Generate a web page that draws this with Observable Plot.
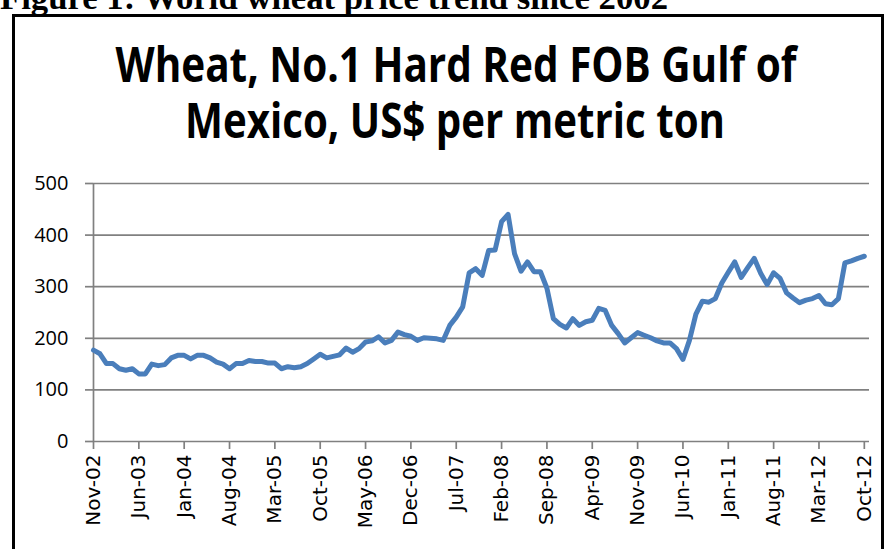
<!DOCTYPE html>
<html>
<head>
<meta charset="utf-8">
<script src="https://cdn.jsdelivr.net/npm/d3@7"></script>
<script src="https://cdn.jsdelivr.net/npm/@observablehq/plot@0.6"></script>
<style>
  html, body { margin: 0; padding: 0; background: #fff; }
  #wrap { position: relative; width: 886px; height: 549px; overflow: hidden; background: #fff; }
  #frame { position: absolute; left: 12px; top: 14px; width: 872px; height: 600px; border: 3px solid #000; box-sizing: border-box; }
  #chart { position: absolute; left: 0; top: 0; }
  #texts { position: absolute; left: 0; top: 0; }
</style>
</head>
<body>
<div id="wrap">
  <div id="frame"></div>
  <div id="chart"></div>
  <svg id="texts" width="886" height="549">
    <text x="0" y="9" font-family="Liberation Serif" font-weight="bold" font-size="33" textLength="668" lengthAdjust="spacingAndGlyphs" fill="#000">Figure 1: World wheat price trend since 2002</text>
    <text x="456" y="82" text-anchor="middle" font-family="Open Sans" font-weight="bold" font-size="48" textLength="681" lengthAdjust="spacingAndGlyphs" fill="#000">Wheat, No.1 Hard Red FOB Gulf of</text>
    <text x="455" y="138" text-anchor="middle" font-family="Open Sans" font-weight="bold" font-size="48" textLength="540" lengthAdjust="spacingAndGlyphs" fill="#000">Mexico, US$ per metric ton</text>
  </svg>
</div>
<script>
// Monthly price, US$ per metric ton, Nov-02 .. Oct-12
const prices = [
  177,170,151,151,141,138,141,131,131,150,
  147,149,162,167,167,160,167,167,162,154,
  150,141,151,151,157,155,155,152,152,141,
  145,143,145,151,160,169,162,165,168,181,
  173,180,193,195,203,191,196,212,207,204,
  196,201,200,199,196,225,241,261,327,335,
  322,370,371,426,440,364,330,348,329,329,
  297,238,227,220,238,225,232,235,258,254,
  225,209,191,201,211,206,201,195,191,191,
  180,159,196,247,272,270,277,307,328,348,
  318,337,355,326,304,327,316,288,278,269,
  274,277,283,267,265,277,346,350,355,359
];
const tickLabels = ["Nov-02","Jun-03","Jan-04","Aug-04","Mar-05","Oct-05","May-06","Dec-06","Jul-07","Feb-08","Sep-08","Apr-09","Nov-09","Jun-10","Jan-11","Aug-11","Mar-12","Oct-12"];
const tickStep = 7; // months between labelled ticks
const yTicks = [0, 100, 200, 300, 400, 500];

const data = prices.map((v, i) => ({i, v}));
const xTicks = tickLabels.map((_, k) => k * tickStep);

const chart = Plot.plot({
  width: 886,
  height: 549,
  marginLeft: 93,
  marginRight: 17,
  marginTop: 183,
  marginBottom: 108,
  style: {background: "transparent", color: "#000", fontFamily: "Open Sans", overflow: "visible"},
  x: {domain: [0, 119.8]},
  y: {domain: [0, 500]},
  marks: [
    Plot.ruleY(yTicks, {stroke: "#808080", strokeWidth: 1.7}),
    Plot.ruleX([0], {stroke: "#808080", strokeWidth: 1.7}),
    Plot.axisY({ticks: yTicks, tickSize: 8, tickPadding: 17, fontSize: 20, stroke: "#808080", strokeWidth: 1.7, strokeOpacity: 1, label: null}),
    Plot.axisX({ticks: xTicks, tickFormat: d => tickLabels[d / tickStep], tickRotate: -90, tickSize: 8, tickPadding: 5, fontSize: 20, fontFamily: "DejaVu Sans", stroke: "#808080", strokeWidth: 1.7, strokeOpacity: 1, label: null}),
    Plot.lineY(data, {x: "i", y: "v", stroke: "#4a7ebb", strokeWidth: 5, strokeLinejoin: "round", strokeLinecap: "round"})
  ]
});
document.getElementById("chart").appendChild(chart);
</script>
</body>
</html>
